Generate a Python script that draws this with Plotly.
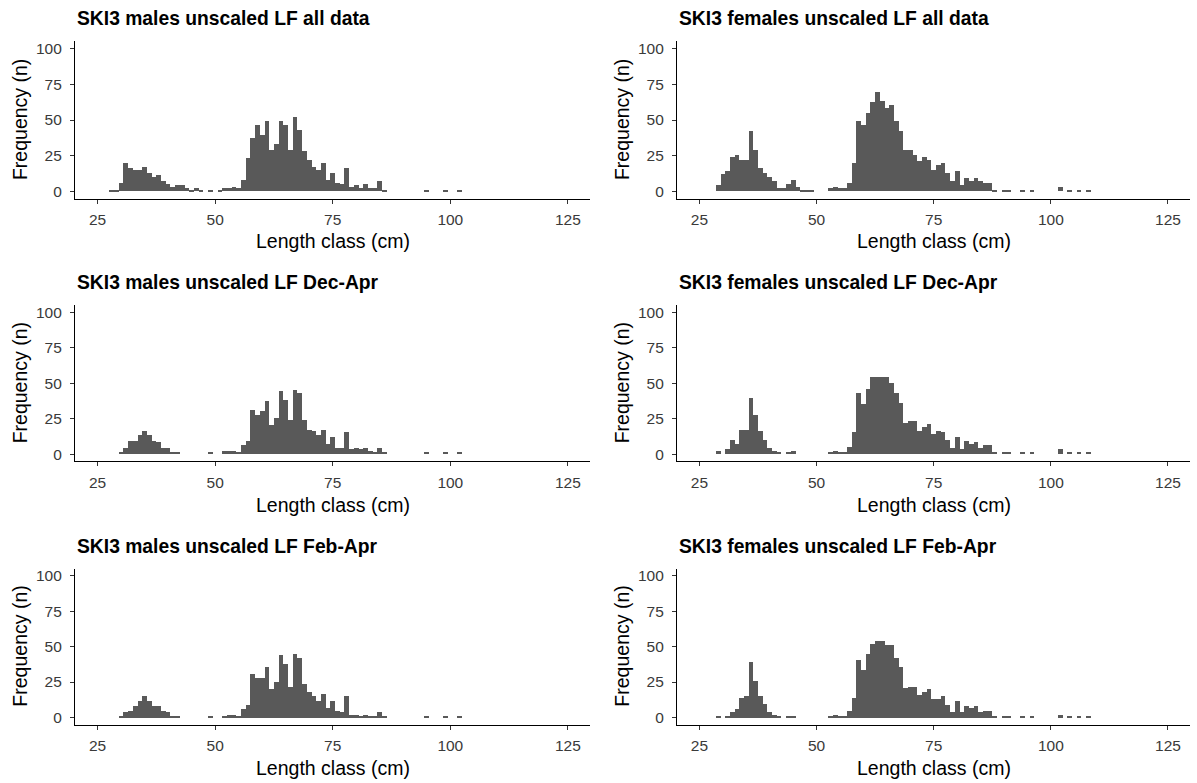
import plotly.graph_objects as go

# ---------------- data (length class in cm, frequency n) ----------------
males_all_len = [28, 29, 30, 31, 32, 33, 34, 35, 36, 37, 38, 39, 40, 41, 42, 43, 44, 45, 46, 47, 49,
                 51, 52, 53, 54, 55, 56, 57, 58, 59, 60, 61, 62, 63, 64, 65, 66, 67, 68, 69, 70,
                 71, 72, 73, 74, 75, 76, 77, 78, 79, 80, 81, 82, 83, 84, 85, 86, 95, 99, 102]
males_all_n = [1, 1, 6, 20, 16, 15, 15, 17, 13, 10, 11, 7, 5, 3, 4, 4, 2, 1, 2, 1, 1,
               1, 2, 2, 3, 2, 8, 23, 37, 46, 39, 49, 29, 33, 49, 46, 29, 52, 43, 28, 22,
               17, 15, 20, 8, 13, 6, 5, 16, 3, 4, 2, 5, 2, 2, 7, 1, 1, 1, 1]

females_all_len = [29, 30, 31, 32, 33, 34, 35, 36, 37, 38, 39, 40, 41, 42, 43, 44, 45, 46, 47, 48, 49,
                   53, 54, 55, 56, 57, 58, 59, 60, 61, 62, 63, 64, 65, 66, 67, 68, 69, 70, 71, 72,
                   73, 74, 75, 76, 77, 78, 79, 80, 81, 82, 83, 84, 85, 86, 87, 88, 90, 91, 94, 96,
                   102, 104, 106, 108]
females_all_n = [4, 12, 14, 24, 25, 22, 22, 42, 29, 16, 13, 10, 7, 2, 2, 5, 8, 3, 1, 1, 1,
                 2, 3, 2, 2, 6, 20, 49, 46, 55, 62, 69, 63, 58, 60, 49, 42, 29, 29, 25, 21,
                 24, 22, 15, 18, 20, 13, 7, 14, 4, 9, 7, 9, 7, 6, 6, 1, 1, 1, 1, 1,
                 3, 1, 1, 1]

males_dec_len = [30, 31, 32, 33, 34, 35, 36, 37, 38, 39, 40, 41, 42, 49,
                 52, 53, 54, 55, 56, 57, 58, 59, 60, 61, 62, 63, 64, 65, 66, 67, 68, 69, 70,
                 71, 72, 73, 74, 75, 76, 77, 78, 79, 80, 81, 82, 83, 84, 85, 86, 95, 99, 102]
males_dec_n = [1, 4, 9, 9, 13, 16, 13, 9, 8, 4, 4, 1, 1, 1,
               2, 2, 2, 1, 6, 9, 31, 27, 30, 37, 20, 25, 44, 38, 24, 45, 43, 24, 17,
               16, 13, 17, 7, 12, 4, 4, 15, 3, 4, 3, 4, 2, 1, 4, 1, 1, 1, 1]

females_dec_len = [29, 31, 32, 33, 34, 35, 36, 37, 38, 39, 40, 41, 42, 44, 45,
                   53, 54, 55, 56, 57, 58, 59, 60, 61, 62, 63, 64, 65, 66, 67, 68, 69, 70, 71, 72,
                   73, 74, 75, 76, 77, 78, 79, 80, 81, 82, 83, 84, 85, 86, 87, 88, 90, 91, 94, 96,
                   102, 104, 106, 108]
females_dec_n = [2, 3, 10, 7, 17, 17, 39, 27, 16, 10, 4, 2, 1, 1, 2,
                 1, 2, 1, 1, 5, 15, 43, 35, 46, 54, 54, 54, 54, 50, 43, 36, 22, 23, 23, 16,
                 19, 21, 14, 16, 15, 10, 4, 12, 3, 9, 7, 8, 4, 6, 6, 1, 1, 1, 1, 1,
                 3, 1, 1, 1]

males_feb_len = [30, 31, 32, 33, 34, 35, 36, 37, 38, 39, 40, 41, 42, 49,
                 52, 53, 54, 55, 56, 57, 58, 59, 60, 61, 62, 63, 64, 65, 66, 67, 68, 69, 70,
                 71, 72, 73, 74, 75, 76, 77, 78, 79, 80, 81, 82, 83, 84, 85, 86, 95, 99, 102]
males_feb_n = [1, 4, 5, 8, 12, 15, 12, 8, 8, 5, 4, 1, 1, 1,
               1, 2, 2, 1, 6, 9, 31, 28, 28, 36, 20, 25, 44, 38, 22, 45, 42, 24, 18,
               15, 12, 17, 7, 12, 5, 4, 15, 2, 2, 1, 2, 1, 1, 4, 1, 1, 1, 1]

females_feb_len = [29, 31, 32, 33, 34, 35, 36, 37, 38, 39, 40, 41, 42, 44, 45,
                   53, 54, 55, 56, 57, 58, 59, 60, 61, 62, 63, 64, 65, 66, 67, 68, 69, 70, 71, 72,
                   73, 74, 75, 76, 77, 78, 79, 80, 81, 82, 83, 84, 85, 86, 87, 88, 90, 91, 94, 96,
                   102, 104, 106, 108]
females_feb_n = [1, 1, 4, 6, 14, 15, 39, 26, 15, 10, 4, 2, 1, 1, 1,
                 1, 2, 1, 1, 5, 14, 41, 34, 45, 52, 54, 54, 51, 51, 42, 36, 21, 22, 22, 16,
                 18, 20, 13, 13, 15, 9, 4, 12, 4, 8, 7, 8, 4, 5, 5, 1, 1, 1, 1, 1,
                 2, 1, 1, 1]

panel_titles = ["SKI3 males unscaled LF all data", "SKI3 females unscaled LF all data",
                "SKI3 males unscaled LF Dec-Apr", "SKI3 females unscaled LF Dec-Apr",
                "SKI3 males unscaled LF Feb-Apr", "SKI3 females unscaled LF Feb-Apr"]
x_ticks = [25, 50, 75, 100, 125]
y_ticks = [0, 25, 50, 75, 100]
x_title = "Length class (cm)"
y_title = "Frequency (n)"

series = [(males_all_len, males_all_n), (females_all_len, females_all_n),
          (males_dec_len, males_dec_n), (females_dec_len, females_dec_n),
          (males_feb_len, males_feb_n), (females_feb_len, females_feb_n)]

# ---------------- layout geometry (pixels) ----------------
W, H = 1197, 783
col_px = [(75, 590), (677, 1190)]
row_px = [(40.5, 198.2), (305.2, 461.4), (569.2, 725.4)]
title_y = [18, 282, 547]
xtitle_y = [241, 505, 769]
ytitle_x = [20, 622]

FONT = "Liberation Sans, Arial, sans-serif"
BAR = "#595959"

fig = go.Figure()
annotations = []
for i, (xs, ns) in enumerate(series):
    r, c = divmod(i, 2)
    k = "" if i == 0 else str(i + 1)
    fig.add_trace(go.Bar(x=xs, y=ns, width=1.0, marker=dict(color=BAR, line=dict(width=0)),
                         xaxis="x" + k, yaxis="y" + k, showlegend=False,
                         hovertemplate="%{x} cm: %{y}<extra></extra>"))
    x0, x1 = col_px[c]
    y0, y1 = row_px[r]
    axis_common = dict(showgrid=False, zeroline=False, showline=True, linecolor="black",
                       linewidth=1.1, ticks="outside", ticklen=4, tickwidth=1.1,
                       tickcolor="#333333", tickfont=dict(family=FONT, size=15.5, color="#3A3A3A"))
    fig.layout["xaxis" + k] = dict(axis_common, domain=[x0 / W, x1 / W], range=[20.2, 129.7],
                                   tickvals=x_ticks, anchor="y" + k, ticklabelstandoff=3)
    fig.layout["yaxis" + k] = dict(axis_common, domain=[1 - y1 / H, 1 - y0 / H], range=[-5, 105],
                                   tickvals=y_ticks, anchor="x" + k, ticklabelstandoff=5)
    annotations.append(dict(text="<b>" + panel_titles[i] + "</b>", x=x0 / W, y=1 - title_y[r] / H,
                            xref="paper", yref="paper", xanchor="left", yanchor="middle",
                            showarrow=False, font=dict(family=FONT, size=19.3, color="black")))
    annotations.append(dict(text=x_title, x=(x0 + x1) / 2 / W, y=1 - xtitle_y[r] / H,
                            xref="paper", yref="paper", xanchor="center", yanchor="middle",
                            showarrow=False, font=dict(family=FONT, size=19.5, color="black")))
    annotations.append(dict(text=y_title, x=ytitle_x[c] / W, y=1 - (y0 + y1) / 2 / H,
                            xref="paper", yref="paper", xanchor="center", yanchor="middle",
                            textangle=-90, showarrow=False,
                            font=dict(family=FONT, size=19.5, color="black")))

fig.update_layout(width=W, height=H, margin=dict(l=0, r=0, t=0, b=0),
                  plot_bgcolor="white", paper_bgcolor="white", bargap=0,
                  annotations=annotations)
fig.write_html("out.html", config={"displayModeBar": False},
               post_script="document.body.style.margin='0';document.body.style.overflow='hidden';")
